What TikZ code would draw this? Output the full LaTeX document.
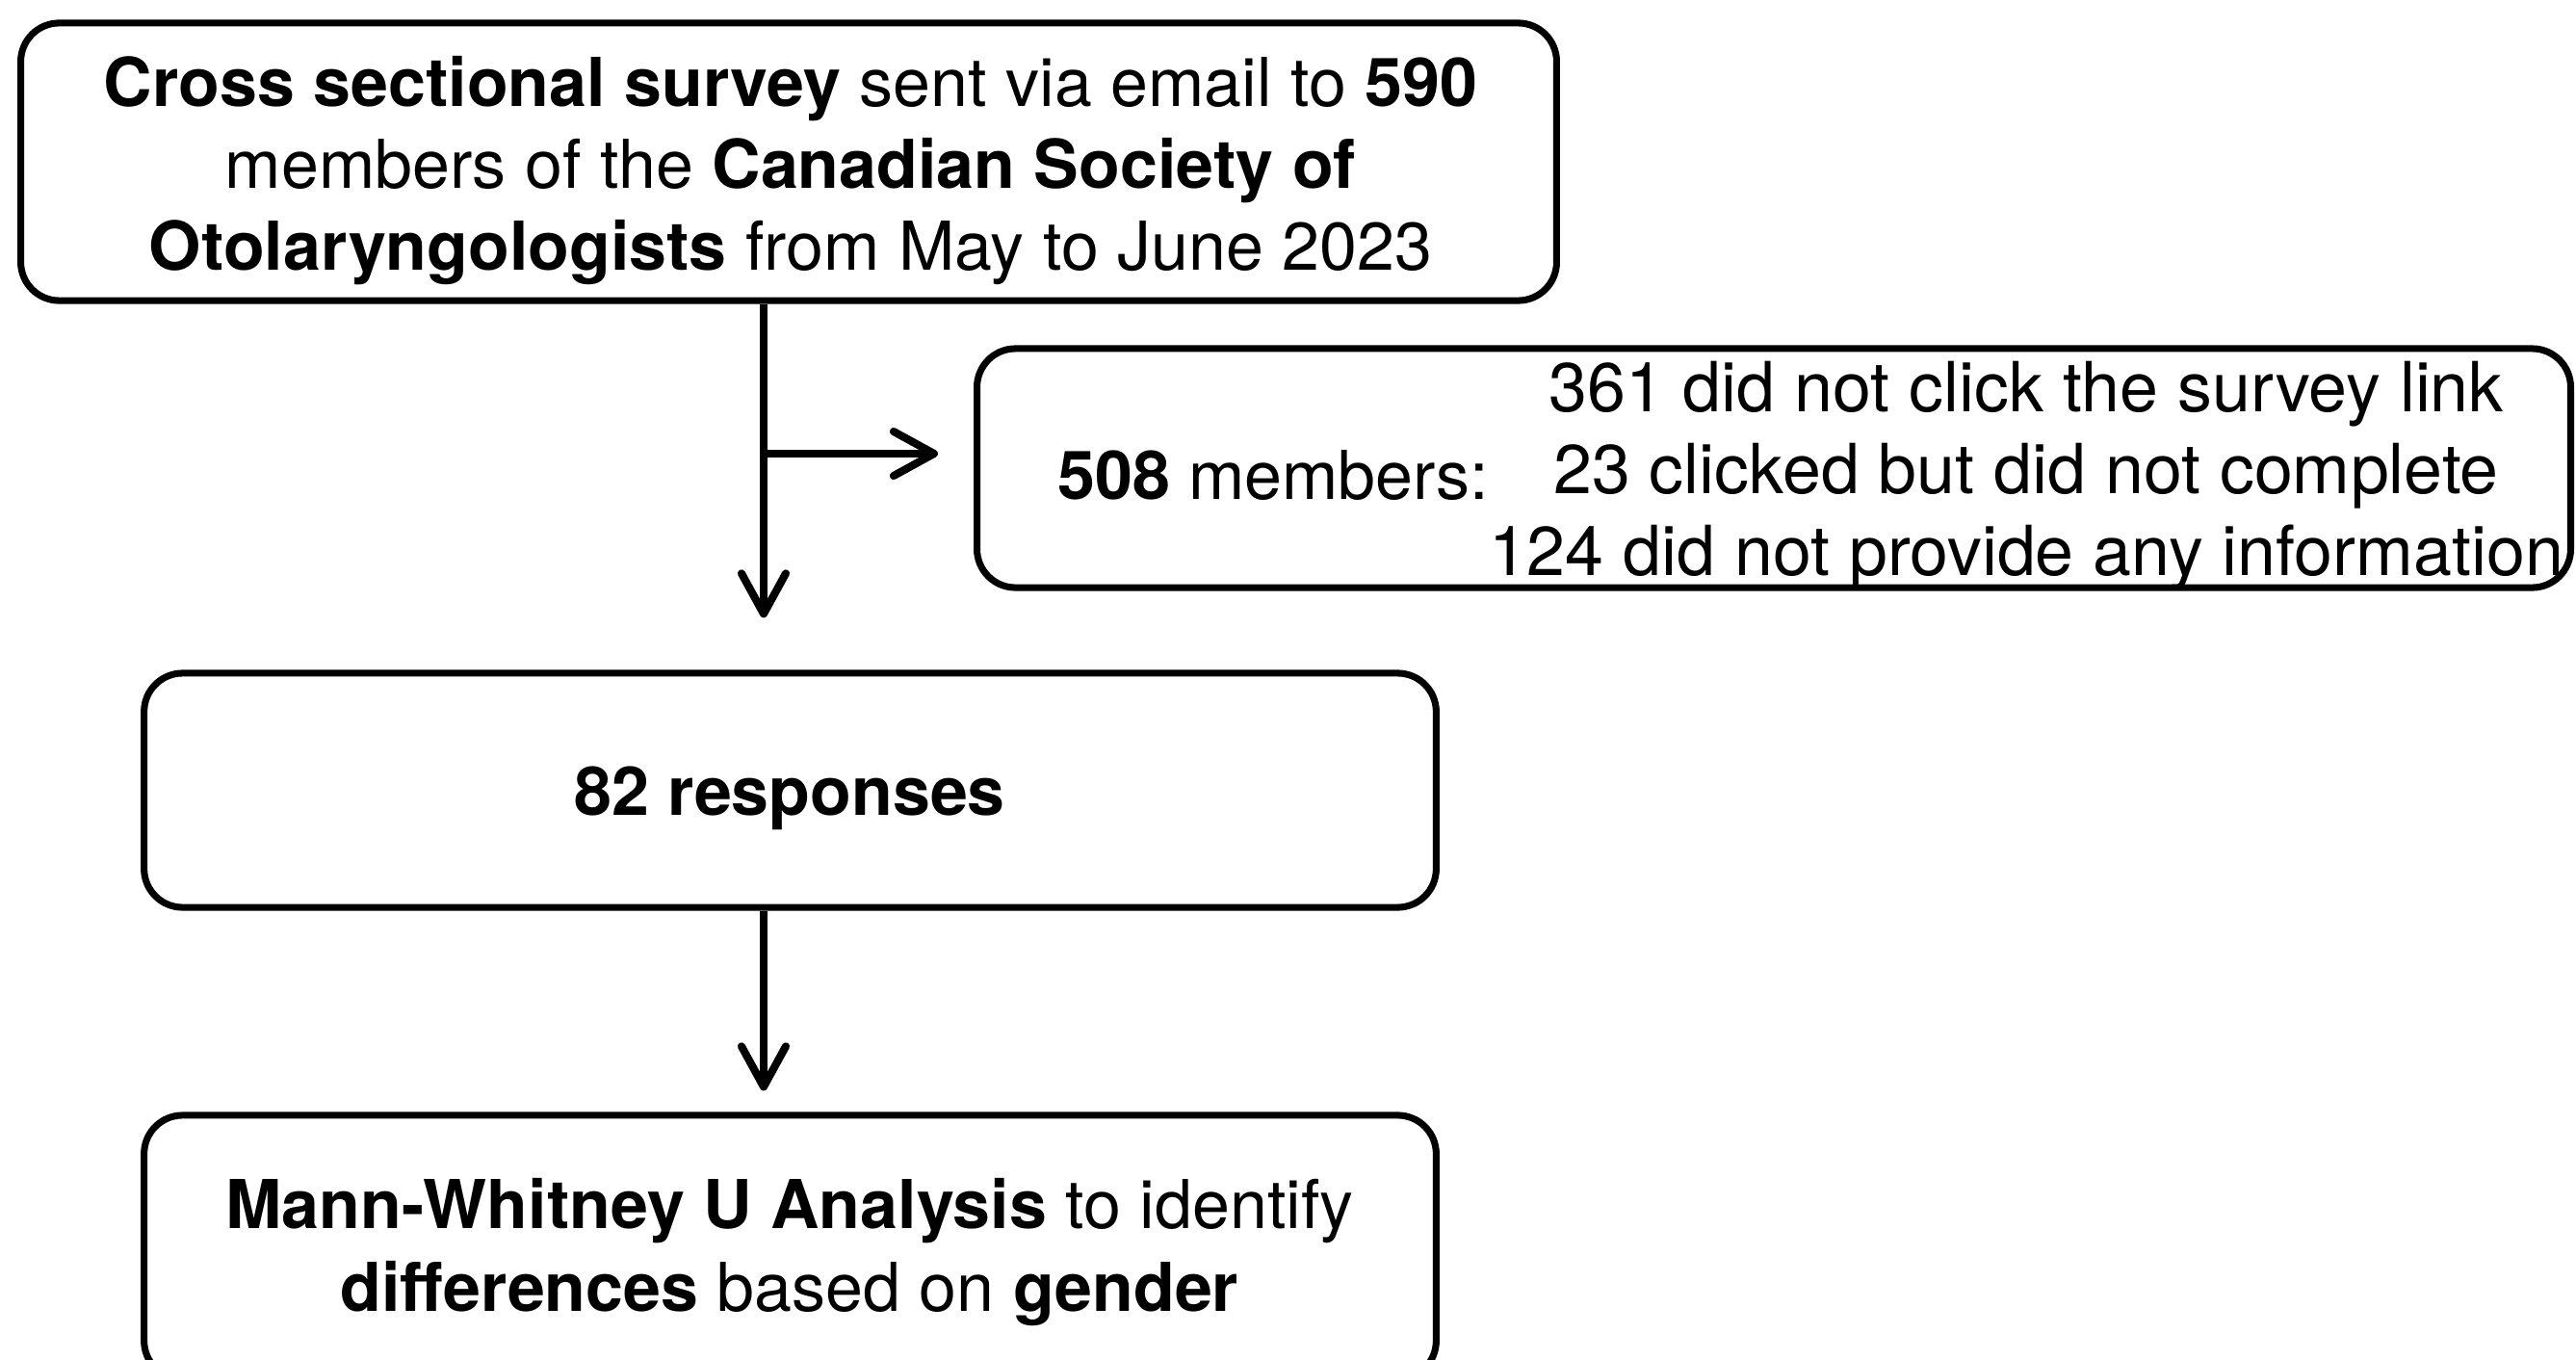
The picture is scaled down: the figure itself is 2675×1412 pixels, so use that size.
\documentclass[tikz,border=0pt]{standalone}
\usepackage{fontspec}
\setmainfont{TeX Gyre Heros}
\usetikzlibrary{arrows.meta}
\begin{document}
\begin{tikzpicture}[x=0.01cm,y=-0.01cm,
  box/.style={draw, line width=2pt, rounded corners=0.4cm, inner sep=0pt},
  txt/.style={inner sep=0pt, align=center, font=\fontsize{19.9pt}{24.2pt}\selectfont},
  arr/.style={line width=2pt, -{Straight Barb[length=0.42cm, width=0.46cm, line width=2.3pt, line cap=round, line join=round]}}]
\useasboundingbox (0,0) rectangle (2675,1412);
\node[box, minimum width=15.94cm, minimum height=2.88cm] (b1) at (819,168) {};
\node[txt] (t1) at (821,177) {\textbf{Cross sectional survey} sent via email to \textbf{590}\\members of the \textbf{Canadian Society of}\\\textbf{Otolaryngologists} from May to June 2023};
\node[box, minimum width=16.54cm, minimum height=2.48cm] (b2) at (1842,486) {};
\node[txt] (t2l) at (1322,494) {\textbf{508} members:};
\node[txt, font=\fontsize{20.4pt}{24.2pt}\selectfont] (t2r) at (2104,494) {361 did not click the survey link\\23 clicked but did not complete\\124 did not provide any information};
\node[box, minimum width=13.41cm, minimum height=2.43cm] (b3) at (820.5,820.5) {};
\node[txt] (t3) at (820,829) {\textbf{82 responses}};
\node[box, minimum width=13.41cm, minimum height=2.74cm] (b4) at (820.5,1295) {};
\node[txt] (t4) at (820,1300) {\textbf{Mann-Whitney U Analysis} to identify\\\textbf{differences} based on \textbf{gender}};
\coordinate (c) at (793,471);
\draw[arr, shorten >=0.54cm] (b1.south -| c) -- (b3.north -| c);
\draw[arr, shorten >=0.37cm] (c) -- (c -| b2.west);
\draw[arr, shorten >=0.22cm] (b3.south -| c) -- (b4.north -| c);
\end{tikzpicture}
\end{document}
